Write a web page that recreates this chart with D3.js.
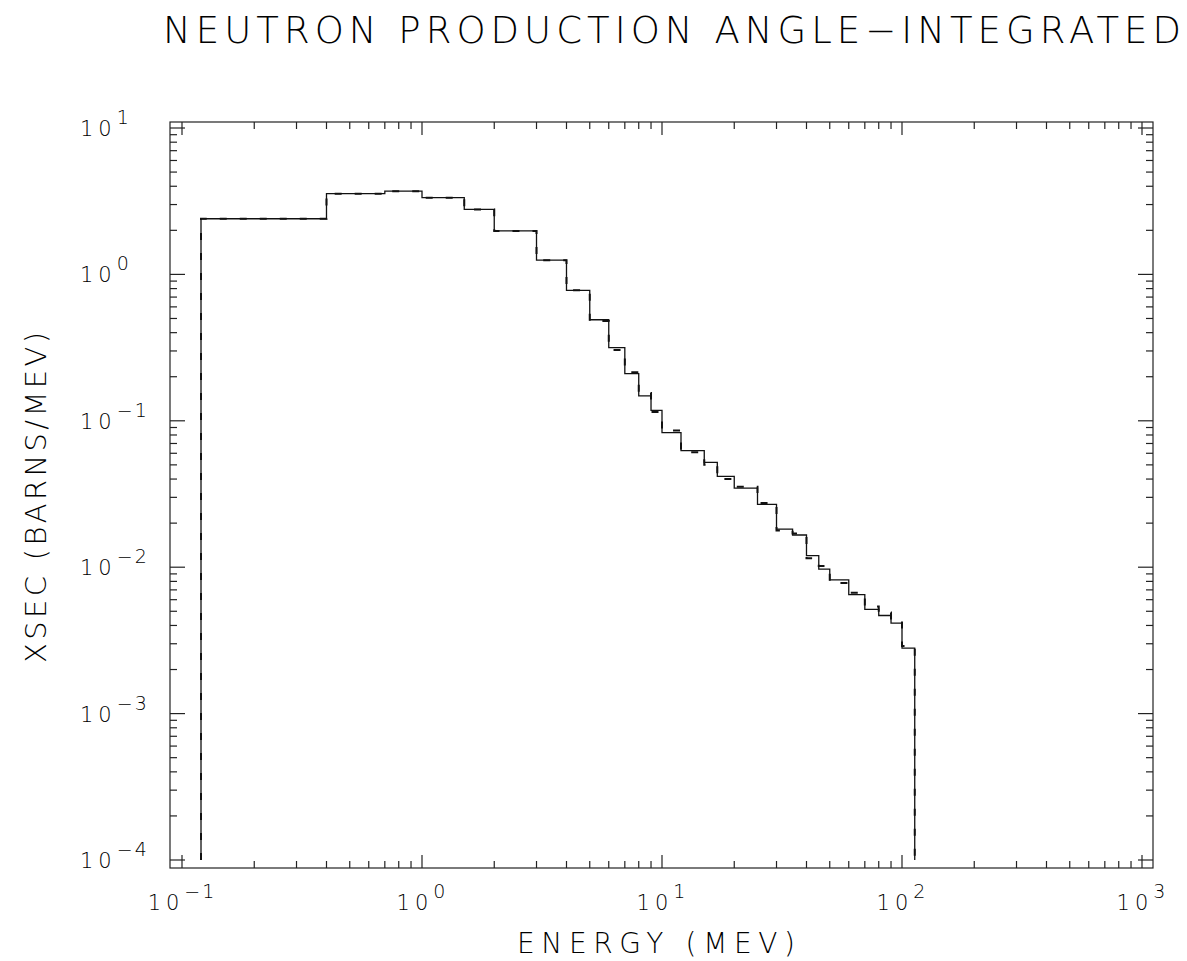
<!DOCTYPE html>
<html>
<head>
<meta charset="utf-8">
<script src="https://cdn.jsdelivr.net/npm/d3@7"></script>
<style>
  body { margin: 0; background: #fff; }
  text { font-family: "DejaVu Sans", sans-serif; font-weight: 200; fill: #000; }
</style>
</head>
<body>
<div id="chart"></div>
<script>
// bin edges in MeV and the two histograms (barns/MeV)
const binEdges = [0.12, 0.4, 0.7, 1.0, 1.5, 2, 3, 4, 5, 6, 7, 8, 9, 10, 12, 15, 17, 20,
                  25, 30, 35, 40, 45, 50, 60, 70, 80, 90, 100, 113];
const solidValues = [2.4, 3.56, 3.7, 3.34, 2.78, 1.98, 1.25, 0.778, 0.49, 0.316, 0.21, 0.148,
                     0.118, 0.083, 0.0625, 0.052, 0.0417, 0.0347, 0.0269, 0.0182, 0.0166,
                     0.012, 0.0097, 0.0082, 0.0065, 0.00515, 0.00468, 0.00415, 0.0028];
const dashedValues = [2.4, 3.56, 3.7, 3.34, 2.78, 1.98, 1.25, 0.778, 0.48, 0.305, 0.215, 0.155,
                      0.115, 0.086, 0.061, 0.050, 0.040, 0.0355, 0.0275, 0.0178, 0.0170,
                      0.0115, 0.0102, 0.0078, 0.0067, 0.0054, 0.0049, 0.0043, 0.0029];
const floorValue = 1e-4;
const xTickExps = [-1, 0, 1, 2, 3];
const yTickExps = [1, 0, -1, -2, -3, -4];

const W = 1187, H = 961;
const frame = { left: 170, right: 1153, top: 122, bottom: 868 };

const svg = d3.select("#chart").append("svg")
    .attr("width", W)
    .attr("height", H);

const x = d3.scaleLog().domain([0.1, 1000]).range([182, 1142]);
const y = d3.scaleLog().domain([1e-4, 10]).range([860, 128]);

// frame
svg.append("rect")
    .attr("x", frame.left).attr("y", frame.top)
    .attr("width", frame.right - frame.left)
    .attr("height", frame.bottom - frame.top)
    .attr("fill", "none")
    .attr("stroke", "#222")
    .attr("stroke-width", 1.2);

function logTicks(scale, lo, hi) {
    const out = [];
    for (let e = -6; e <= 4; e++) {
        for (let m = 1; m <= 9; m++) {
            const v = m * Math.pow(10, e);
            const p = scale(v);
            if (p > lo + 1.5 && p < hi - 1.5) out.push({ v: v, major: m === 1 });
        }
    }
    return out;
}

const majorLen = 13, minorLen = 7;
const tickG = svg.append("g").attr("stroke", "#222").attr("stroke-width", 1.2);

logTicks(x, frame.left, frame.right).forEach(t => {
    const len = t.major ? majorLen : minorLen;
    const px = x(t.v);
    tickG.append("line").attr("x1", px).attr("x2", px)
        .attr("y1", frame.bottom).attr("y2", frame.bottom - len);
    tickG.append("line").attr("x1", px).attr("x2", px)
        .attr("y1", frame.top).attr("y2", frame.top + len);
});

logTicks(y, frame.top, frame.bottom).forEach(t => {
    const len = t.major ? 15 : minorLen;
    const py = y(t.v);
    tickG.append("line").attr("y1", py).attr("y2", py)
        .attr("x1", frame.left).attr("x2", frame.left + len);
    tickG.append("line").attr("y1", py).attr("y2", py)
        .attr("x1", frame.right).attr("x2", frame.right - len);
});

function expLabel(sel, e) {
    sel.append("tspan").attr("letter-spacing", 5).text("10");
    sel.append("tspan").attr("font-size", 19).attr("dy", -12)
        .attr("letter-spacing", 2)
        .text(e < 0 ? "\u2212" + Math.abs(e) : String(e));
}

xTickExps.forEach(e => {
    const t = svg.append("text")
        .attr("x", x(Math.pow(10, e)))
        .attr("y", 910)
        .attr("text-anchor", "middle")
        .attr("font-size", 21);
    expLabel(t, e);
});

yTickExps.forEach(e => {
    const t = svg.append("text")
        .attr("x", 80)
        .attr("y", y(Math.pow(10, e)) + 8)
        .attr("font-size", 21);
    expLabel(t, e);
});

// histogram outlines
function stepPoints(values) {
    const pts = [[binEdges[0], floorValue]];
    values.forEach((v, i) => {
        pts.push([binEdges[i], v]);
        pts.push([binEdges[i + 1], v]);
    });
    pts.push([binEdges[binEdges.length - 1], floorValue]);
    return pts;
}

const line = d3.line().x(d => x(d[0])).y(d => y(d[1]));

svg.append("path")
    .attr("d", line(stepPoints(solidValues)))
    .attr("fill", "none")
    .attr("stroke", "#111")
    .attr("stroke-width", 1.3);

svg.append("path")
    .attr("d", line(stepPoints(dashedValues)))
    .attr("fill", "none")
    .attr("stroke", "#111")
    .attr("stroke-width", 2)
    .attr("stroke-dasharray", "7,13");

// titles
svg.append("text")
    .attr("x", 163).attr("y", 43)
    .attr("font-size", 37)
    .attr("textLength", 1018)
    .attr("lengthAdjust", "spacing")
    .text("NEUTRON PRODUCTION ANGLE\u2212INTEGRATED");

svg.append("text")
    .attr("x", 517).attr("y", 953)
    .attr("font-size", 28)
    .attr("textLength", 278)
    .attr("lengthAdjust", "spacing")
    .text("ENERGY  (MEV)");

svg.append("text")
    .attr("transform", "translate(46,663) rotate(-90)")
    .attr("font-size", 29)
    .attr("textLength", 331)
    .attr("lengthAdjust", "spacing")
    .text("XSEC  (BARNS/MEV)");
</script>
</body>
</html>
